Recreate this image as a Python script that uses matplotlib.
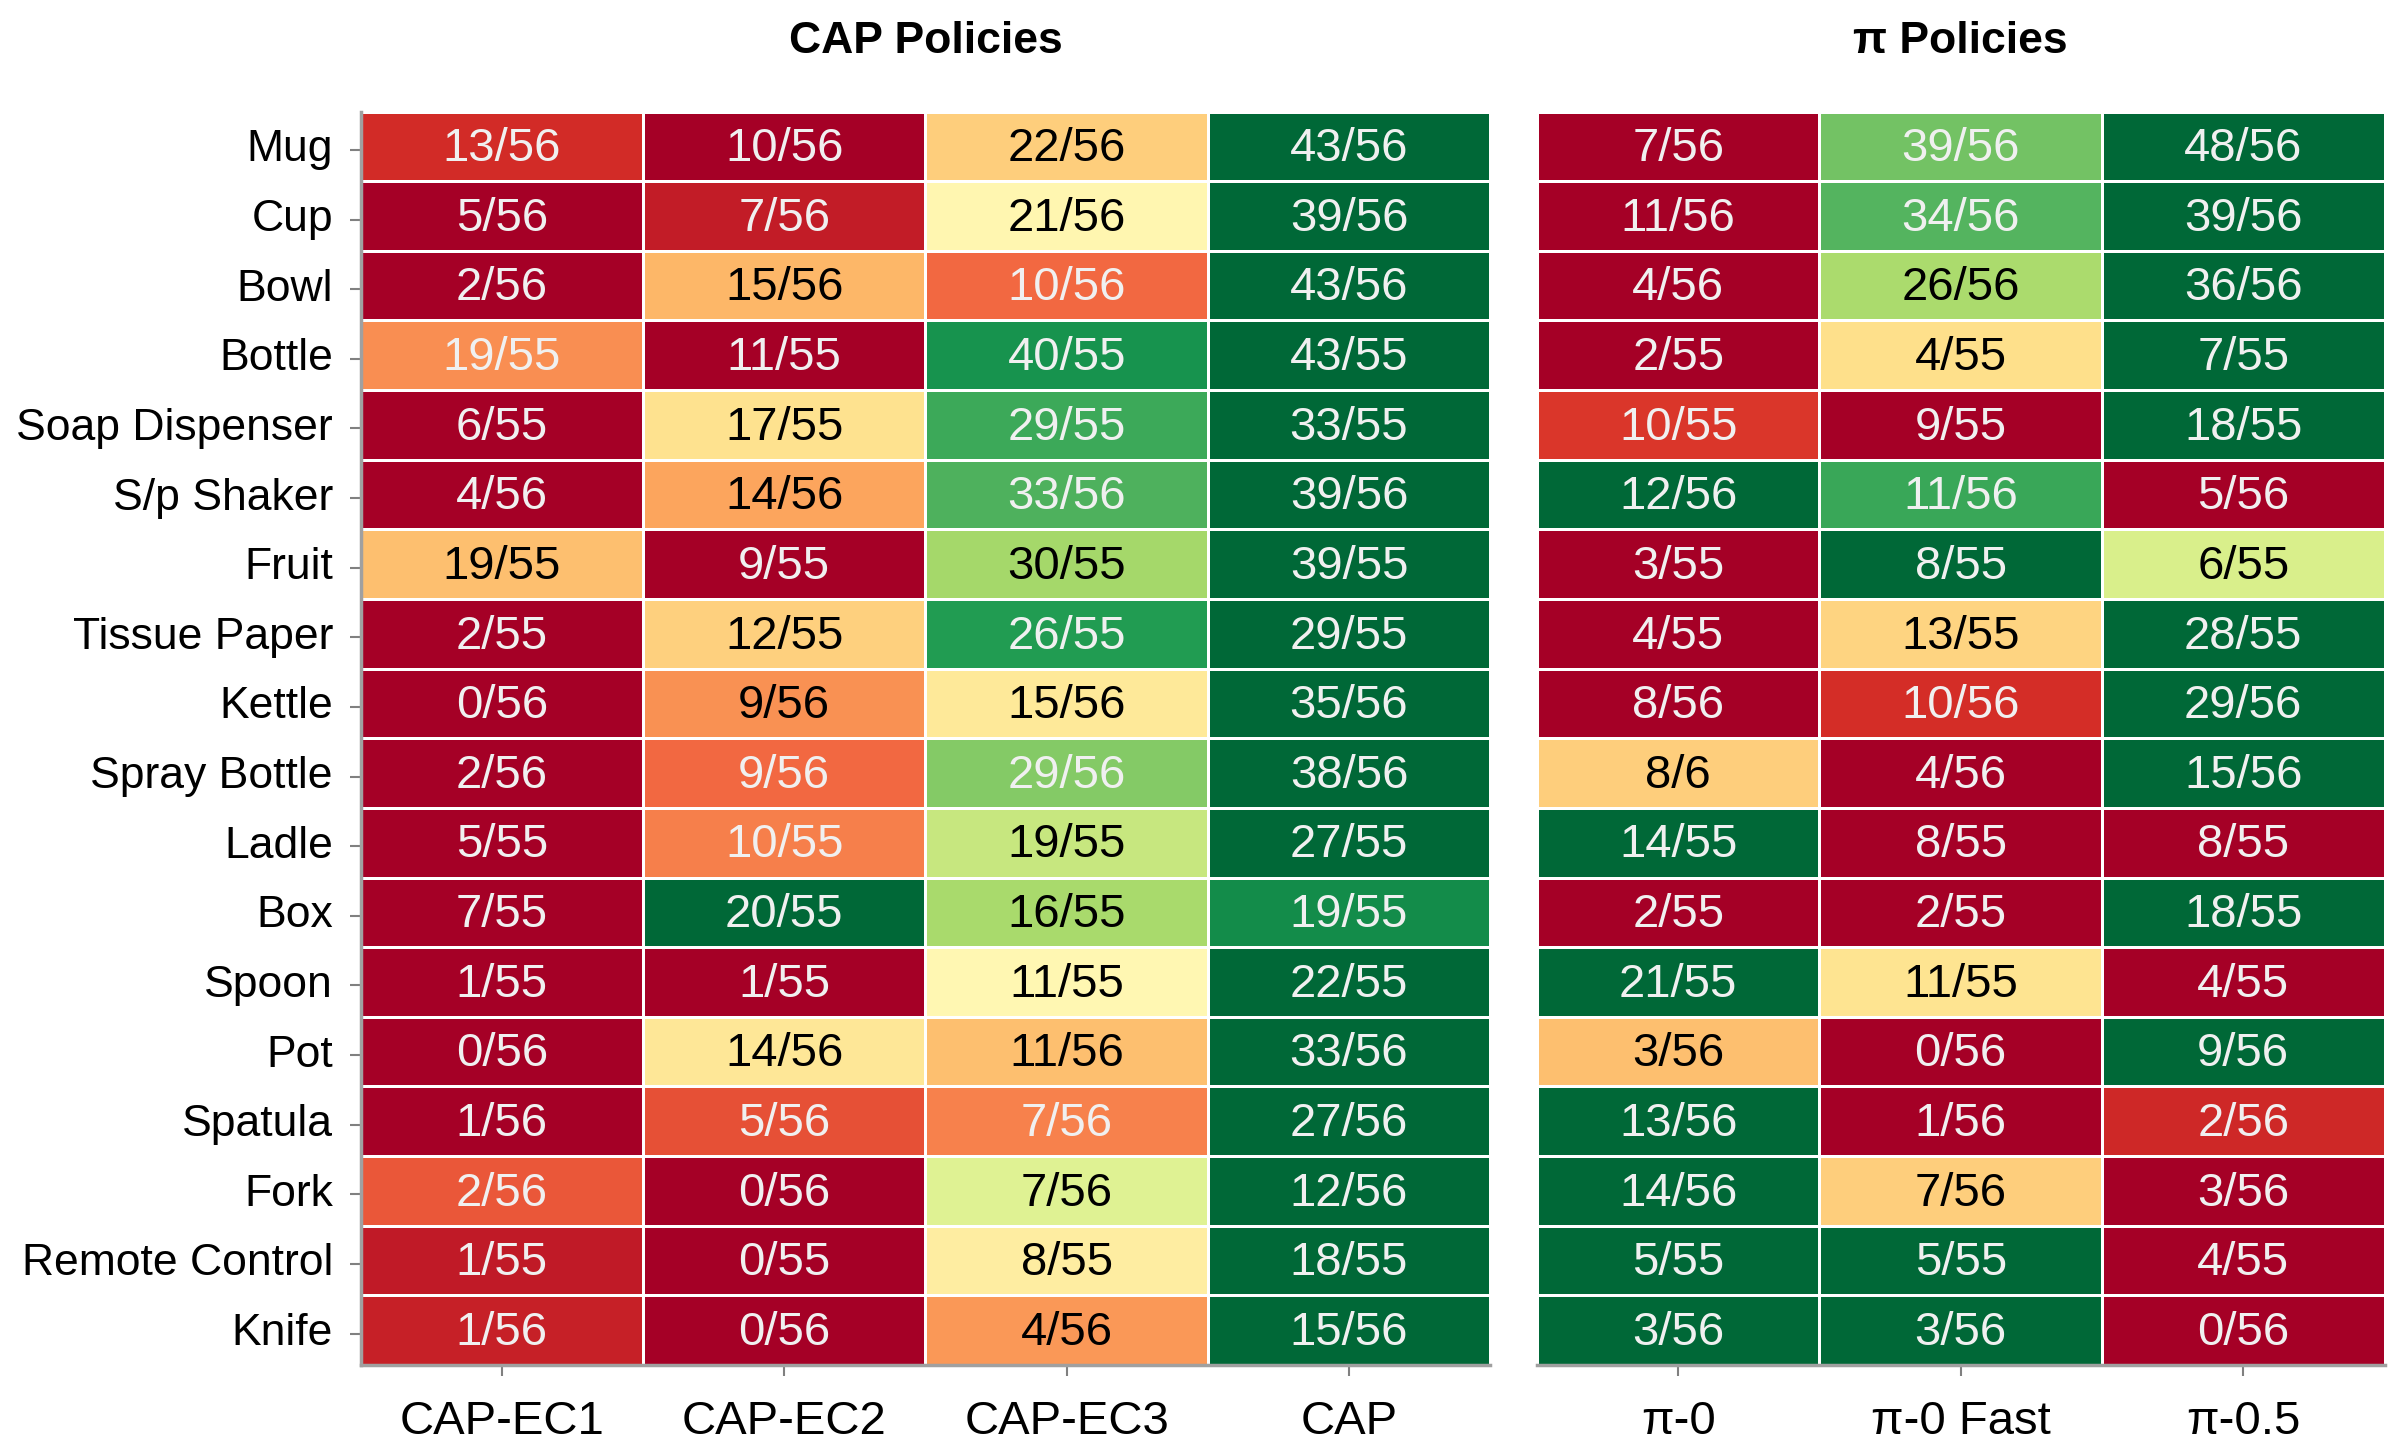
import matplotlib
matplotlib.use("Agg")
import matplotlib.pyplot as plt
import numpy as np
import seaborn as sns

objects = ["Mug", "Cup", "Bowl", "Bottle", "Soap Dispenser", "S/p Shaker", "Fruit",
           "Tissue Paper", "Kettle", "Spray Bottle", "Ladle", "Box", "Spoon", "Pot",
           "Spatula", "Fork", "Remote Control", "Knife"]
trials = [56, 56, 56, 55, 55, 56, 55, 55, 56, 56, 55, 55, 55, 56, 56, 56, 55, 56]

cap_cols = ["CAP-EC1", "CAP-EC2", "CAP-EC3", "CAP"]
cap_success = [
    [13, 10, 22, 43],
    [5, 7, 21, 39],
    [2, 15, 10, 43],
    [19, 11, 40, 43],
    [6, 17, 29, 33],
    [4, 14, 33, 39],
    [19, 9, 30, 39],
    [2, 12, 26, 29],
    [0, 9, 15, 35],
    [2, 9, 29, 38],
    [5, 10, 19, 27],
    [7, 20, 16, 19],
    [1, 1, 11, 22],
    [0, 14, 11, 33],
    [1, 5, 7, 27],
    [2, 0, 7, 12],
    [1, 0, 8, 18],
    [1, 0, 4, 15],
]

pi_cols = ["π-0", "π-0 Fast", "π-0.5"]
pi_success = [
    [7, 39, 48],
    [11, 34, 39],
    [4, 26, 36],
    [2, 4, 7],
    [10, 9, 18],
    [12, 11, 5],
    [3, 8, 6],
    [4, 13, 28],
    [8, 10, 29],
    [8, 4, 15],
    [14, 8, 8],
    [2, 2, 18],
    [21, 11, 4],
    [3, 0, 9],
    [13, 1, 2],
    [14, 7, 3],
    [5, 5, 4],
    [3, 3, 0],
]

# the original figure prints this one cell as "8/6"
label_fix = {("Spray Bottle", "π-0"): "8/6"}

plt.rcParams['font.family'] = ['Liberation Sans', 'DejaVu Sans']


def row_norm(a):
    a = np.array(a, dtype=float)
    lo = a.min(axis=1, keepdims=True)
    hi = a.max(axis=1, keepdims=True)
    return (a - lo) / np.where(hi > lo, hi - lo, 1)


def make_labels(succ, cols):
    labels = []
    for i, row in enumerate(succ):
        r = []
        for j, v in enumerate(row):
            r.append(label_fix.get((objects[i], cols[j]), f"{v}/{trials[i]}"))
        labels.append(r)
    return np.array(labels)


fig = plt.figure(figsize=(23.97, 14.49), dpi=100)
ax1 = fig.add_axes([0.1505, 0.058, 0.4712, 0.865])
ax2 = fig.add_axes([0.6412, 0.058, 0.3536, 0.865])

panels = [(ax1, cap_success, cap_cols, "CAP Policies"),
          (ax2, pi_success, pi_cols, "π Policies")]

for ax, succ, cols, title in panels:
    norm = row_norm(succ)
    labels = make_labels(succ, cols)
    sns.heatmap(norm, ax=ax, cmap="RdYlGn", vmin=0, vmax=1, cbar=False,
                annot=labels, fmt="", linewidths=2, linecolor="white",
                annot_kws={"fontsize": 34})
    for t, v in zip(ax.texts, norm.flat):
        x, y = t.get_position()
        t.set_position((x, y + 0.04))
        if 0.25 < v < 0.75:
            t.set_color("black")
        else:
            t.set_color("#f0f0f0")
    ax.set_xticks(np.arange(len(cols)) + 0.5)
    ax.set_xticklabels(cols, fontsize=34, rotation=0)
    ax.set_title(title, fontsize=32, fontweight="bold", pad=42)
    ax.tick_params(axis="x", length=8, width=1.5, color="gray", pad=17)
    for s in ["top", "right"]:
        ax.spines[s].set_visible(False)
    ax.spines["bottom"].set_visible(True)
    ax.spines["bottom"].set_color("#a0a0a0")
    ax.spines["bottom"].set_linewidth(2.5)

ax1.set_yticks(np.arange(len(objects)) + 0.55)
ax1.set_yticklabels(objects, fontsize=32, rotation=0)
ax1.tick_params(axis="y", length=8, width=1.5, color="gray", pad=12)
ax1.spines["left"].set_visible(True)
ax1.spines["left"].set_color("#a0a0a0")
ax1.spines["left"].set_linewidth(2.5)

ax2.set_yticks([])
ax2.spines["left"].set_visible(False)

fig.savefig("out.png", dpi=100)
